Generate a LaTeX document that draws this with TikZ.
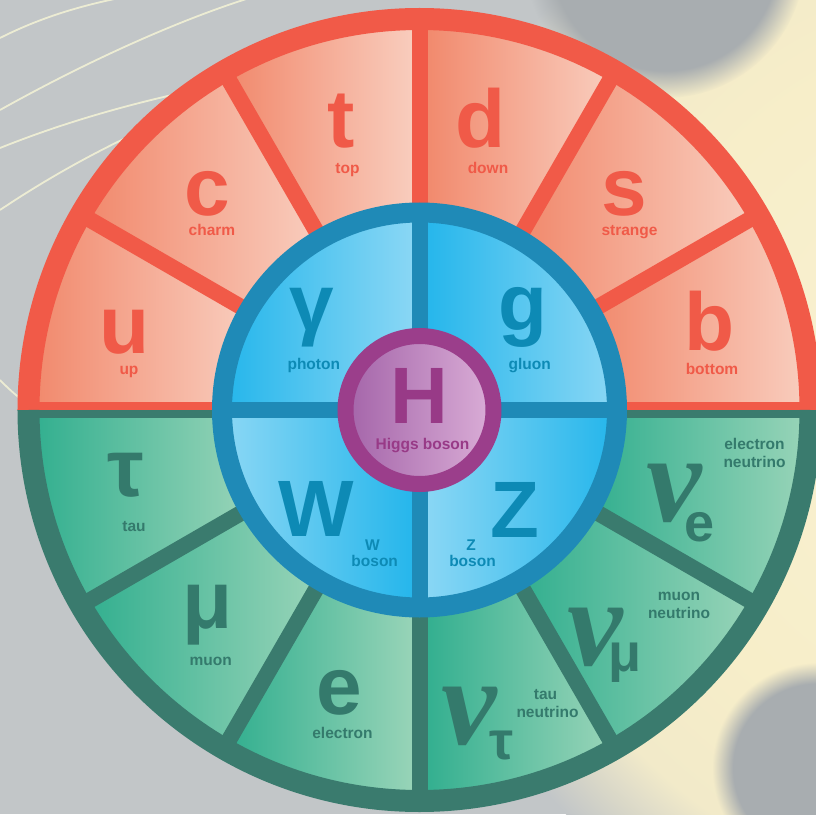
\documentclass[tikz,border=0pt]{standalone}
\usepackage{fontspec}
\setmainfont{Liberation Sans}
\newfontfamily\nufont{Liberation Serif}
\usetikzlibrary{fadings}
\definecolor{qring}{HTML}{F15A48}
\definecolor{qdark}{HTML}{F1876A}
\definecolor{qlight}{HTML}{F9CFC0}
\definecolor{lring}{HTML}{3A7B6E}
\definecolor{ldark}{HTML}{2FAE8E}
\definecolor{llight}{HTML}{9BD5B9}
\definecolor{bring}{HTML}{1F8AB7}
\definecolor{bbright}{HTML}{22B5EB}
\definecolor{blight}{HTML}{8DD8F5}
\definecolor{btxt}{HTML}{0D8AB5}
\definecolor{hring}{HTML}{9B3E8B}
\definecolor{hdark}{HTML}{A566AA}
\definecolor{hlight}{HTML}{D9ACD6}
\definecolor{qtxt}{HTML}{F05A48}
\definecolor{ltxt}{HTML}{347A6C}
\definecolor{htxt}{HTML}{983A87}
\definecolor{bgc}{HTML}{C2C6C8}
\definecolor{bgdark}{HTML}{A8ADB0}
\definecolor{cream}{HTML}{F7EEC9}
\pgfdeclareradialshading{creamfade}{\pgfpoint{0bp}{0bp}}{color(0bp)=(cream!80!white); color(15bp)=(cream); color(21bp)=(cream!90!bgc); color(25bp)=(bgc); color(50bp)=(bgc)}
\begin{document}
\begin{tikzpicture}[x=1pt,y=1pt,
  sym/.style={inner sep=0pt, font=\fontsize{82}{82}\selectfont\bfseries},
  bsym/.style={inner sep=0pt, font=\fontsize{80}{80}\selectfont\bfseries},
  lbl/.style={inner sep=0pt, anchor=base, font=\fontsize{15.5}{18}\selectfont\bfseries},
  nusym/.style={inner sep=0pt, font=\fontsize{125}{125}\selectfont\nufont\bfseries\itshape},
  subsym/.style={inner sep=0pt, font=\fontsize{54}{54}\selectfont\bfseries},
  arcline/.style={draw=white!85!yellow, line width=1.8, opacity=0.7},
  sphere/.style={fill=bgdark, path fading=circle with fuzzy edge 20 percent}
]
\useasboundingbox (-419.5,-404) rectangle (396.5,410);
% ---------- background ----------
\begin{scope}
  \clip (-419.5,-404) rectangle (396.5,410);
  \fill[bgc] (-419.5,-404) rectangle (396.5,410);
  \shade[shading=creamfade] (580.5,10) circle[radius=600];
  \fill[sphere] (245.5,452) circle[radius=140];
  \fill[sphere] (398,-358) circle[radius=105];
  \draw[arcline] (-419.5,372) .. controls (-380,392) and (-340,404) .. (-300,412);
  \draw[arcline] (-419.5,300) .. controls (-330,350) and (-240,390) .. (-170,412);
  \draw[arcline] (-419.5,262) .. controls (-300,310) and (-180,330) .. (-90,345);
  \draw[arcline] (-419.5,200) .. controls (-330,260) and (-240,300) .. (-150,330);
  \draw[arcline] (-419.5,30) .. controls (-410,20) and (-400,12) .. (-395,8);
\end{scope}
% ---------- quark sectors ----------
\foreach \a in {0,30,...,150}{
  \shade[left color=qdark, right color=qlight]
    (\a:190) -- (\a:392) arc[start angle=\a, end angle=\a+30, radius=392]
    -- (\a+30:190) arc[start angle=\a+30, end angle=\a, radius=190] -- cycle;
}
% ---------- lepton sectors ----------
\foreach \a in {180,210,...,330}{
  \shade[left color=ldark, right color=llight]
    (\a:190) -- (\a:392) arc[start angle=\a, end angle=\a+30, radius=392]
    -- (\a+30:190) arc[start angle=\a+30, end angle=\a, radius=190] -- cycle;
}
% dividers
\foreach \a in {30,60,...,150}{\draw[qring, line width=16] (\a:190) -- (\a:392);}
\foreach \a in {210,240,...,330}{\draw[lring, line width=16] (\a:190) -- (\a:392);}
\fill[qring] (-401,0) rectangle (401,8);
\fill[lring] (-401,-8) rectangle (401,0);
% outer ring
\draw[qring, line width=22] (391,0) arc[start angle=0, end angle=180, radius=391];
\draw[lring, line width=22] (-391,0) arc[start angle=180, end angle=360, radius=391];
% ---------- bosons ----------
\foreach \a/\l/\r in {0/bbright/blight, 90/bbright/blight, 180/blight/bbright, 270/blight/bbright}{
  \shade[left color=\l, right color=\r] (0,0) -- (\a:200) arc[start angle=\a, end angle=\a+90, radius=200] -- cycle;
}
\draw[bring, line width=16] (-200,0) -- (200,0);
\draw[bring, line width=16] (0,-200) -- (0,200);
\draw[bring, line width=20] (0,0) circle[radius=197.5];
% ---------- Higgs ----------
\shade[left color=hdark, right color=hlight] (0,0) circle[radius=70];
\draw[hring, line width=16] (0,0) circle[radius=74];
% ---------- quark text ----------
\node[sym, text=qtxt] (u) at (-294.5,78) {u};
\node[lbl, text=qtxt] (ul) at (-290.5,36) {up};
\node[sym, text=qtxt] (c) at (-212.5,216) {c};
\node[lbl, text=qtxt] (cl) at (-207.5,174.5) {charm};
\node[sym, text=qtxt] (t) at (-78.5,289) {t};
\node[lbl, text=qtxt] (tl) at (-72,236) {top};
\node[sym, text=qtxt] (d) at (61.5,292) {d};
\node[lbl, text=qtxt] (dl) at (68.5,236) {down};
\node[sym, text=qtxt] (s) at (205,216) {s};
\node[lbl, text=qtxt] (sl) at (210,174) {strange};
\node[sym, text=qtxt] (b) at (290.5,88.5) {b};
\node[lbl, text=qtxt] (bl) at (292.5,36) {bottom};
% ---------- boson text ----------
\node[bsym, text=btxt] (gam) at (-107.5,92.5) {γ};
\node[lbl, text=btxt] (gaml) at (-105.7,41) {photon};
\node[bsym, text=btxt] (g) at (103.5,92.5) {g};
\node[lbl, text=btxt] (gl) at (110.3,41) {gluon};
\node[bsym, text=btxt] (w) at (-103.5,-99) {W};
\node[lbl, text=btxt] (wl1) at (-47,-140) {W};
\node[lbl, text=btxt] (wl2) at (-44.8,-156.5) {boson};
\node[bsym, text=btxt] (z) at (95.5,-100) {Z};
\node[lbl, text=btxt] (zl1) at (51.5,-140) {Z};
\node[lbl, text=btxt] (zl2) at (53,-156.5) {boson};
\node[bsym, text=htxt] (h) at (-0.5,14.5) {H};
\node[lbl, text=htxt] (hl) at (3,-39) {Higgs boson};
% ---------- lepton text ----------
\node[sym, text=ltxt] (tau) at (-293.5,-65) {τ};
\node[lbl, text=ltxt] (taul) at (-285.5,-121) {tau};
\node[sym, text=ltxt] (mu) at (-212,-205.5) {μ};
\node[lbl, text=ltxt] (mul) at (-208.7,-255.5) {muon};
\node[sym, text=ltxt] (e) at (-80,-283) {e};
\node[lbl, text=ltxt] (el) at (-77,-328.5) {electron};
\node[nusym, text=ltxt] (nt) at (50,-306) {ν};
\node[subsym, text=ltxt] (nts) at (82,-336) {τ};
\node[lbl, text=ltxt] (ntl1) at (126,-289) {tau};
\node[lbl, text=ltxt] (ntl2) at (128,-307.5) {neutrino};
\node[nusym, text=ltxt] (nm) at (175.5,-227.5) {ν};
\node[subsym, text=ltxt] (nms) at (205.5,-253) {μ};
\node[lbl, text=ltxt] (nml1) at (259.5,-190.5) {muon};
\node[lbl, text=ltxt] (nml2) at (259.5,-208.5) {neutrino};
\node[nusym, text=ltxt] (ne) at (254.5,-83) {ν};
\node[subsym, text=ltxt] (nes) at (280,-117) {e};
\node[lbl, text=ltxt] (nel1) at (335,-39.5) {electron};
\node[lbl, text=ltxt] (nel2) at (335,-57.5) {neutrino};
\end{tikzpicture}
\end{document}
